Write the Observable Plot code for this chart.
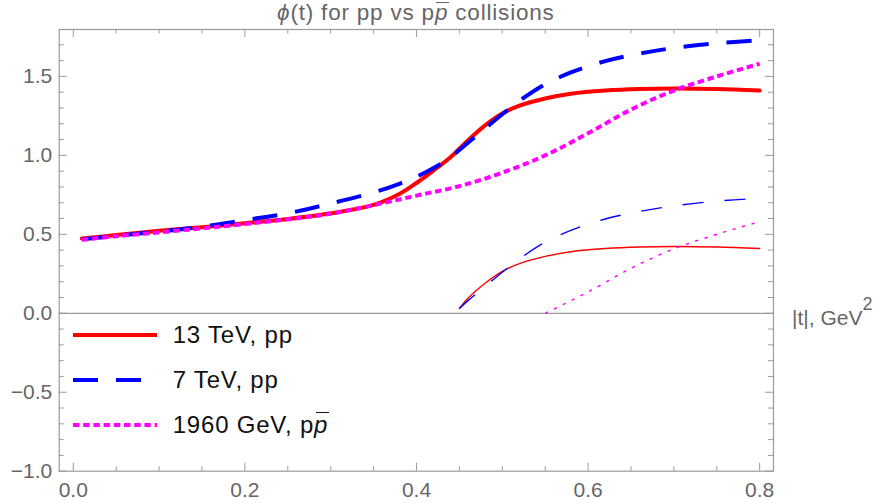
<!DOCTYPE html>
<html>
<head>
<meta charset="utf-8">
<script src="https://cdn.jsdelivr.net/npm/d3@7"></script>
<script src="https://cdn.jsdelivr.net/npm/@observablehq/plot@0.6"></script>
<style>
  body { margin: 0; background: #fff; font-family: "Liberation Sans", Arial, sans-serif; }
  #wrap { position: relative; width: 878px; height: 503px; overflow: hidden; }
  #title { height: 26px; line-height: 26px; font-size: 22.5px; letter-spacing: 0.8px; color: #666; text-align: center;
           padding-left: 58.7px; width: 714.3px; white-space: nowrap; }
  .pbar { font-style: italic; display: inline-block; position: relative; }
  .pbar::before { content: ""; position: absolute; left: 1.5px; right: -0.5px; border-top: 1.5px solid currentColor; }
  #title .pbar::before { top: 1.5px; }
  .leg { position: absolute; left: 73px; height: 40px; display: flex; align-items: center;
         font-size: 24px; letter-spacing: 0.8px; color: #111; white-space: nowrap; }
  .leg span.txt { margin-left: 15.7px; line-height: 28px; }
  .leg .pbar { line-height: 28px; }
  .leg .pbar::before { top: 0.5px; }
  #xlab { position: absolute; left: 792px; top: 306.5px; font-size: 21px; line-height: 21px; color: #666; white-space: nowrap; }
  #xlab sup { font-size: 18px; position: relative; top: -15px; vertical-align: baseline; }
</style>
</head>
<body>
<div id="wrap">
  <div id="title"><i>ϕ</i>(t) for pp vs p<span class="pbar">p</span> collisions</div>
  <div id="chart"></div>
  <div id="xlab">|t|, GeV<sup>2</sup></div>
  <div id="legend"></div>
</div>
<script>
// ---- data ----
const t13 = [0.01,0.05,0.1,0.15,0.2,0.25,0.3,0.35,0.38,0.40,0.42,0.44,0.46,0.48,0.50,0.52,0.55,0.58,0.62,0.66,0.70,0.75,0.80];
const phi13 = [0.473,0.495,0.522,0.545,0.570,0.597,0.633,0.686,0.755,0.825,0.905,0.99,1.095,1.19,1.265,1.315,1.36,1.39,1.41,1.42,1.423,1.42,1.41];
const t7 = [0.01,0.05,0.1,0.15,0.2,0.25,0.3,0.35,0.38,0.40,0.42,0.44,0.46,0.48,0.50,0.52,0.55,0.58,0.62,0.66,0.70,0.75,0.80];
const phi7 = [0.468,0.49,0.517,0.548,0.59,0.633,0.695,0.765,0.82,0.865,0.92,0.99,1.08,1.17,1.26,1.345,1.45,1.525,1.597,1.645,1.68,1.71,1.728];
const t1960 = [0.01,0.05,0.1,0.15,0.2,0.25,0.3,0.35,0.4,0.45,0.5,0.55,0.6,0.65,0.7,0.75,0.8];
const phi1960 = [0.465,0.488,0.512,0.538,0.565,0.595,0.630,0.685,0.745,0.805,0.89,1.0,1.14,1.29,1.41,1.50,1.58];

const t13thin = [0.45,0.46,0.48,0.50,0.52,0.55,0.58,0.62,0.66,0.70,0.75,0.80];
const phi13thin = [0.03,0.095,0.19,0.265,0.315,0.36,0.39,0.41,0.42,0.423,0.42,0.41];
const t7thin = [0.45,0.46,0.48,0.50,0.52,0.55,0.58,0.62,0.66,0.70,0.75,0.80];
const phi7thin = [0.03,0.08,0.17,0.26,0.345,0.45,0.525,0.597,0.645,0.68,0.71,0.728];
const t1960thin = [0.55,0.6,0.65,0.7,0.75,0.8];
const phi1960thin = [0.0,0.135,0.285,0.408,0.50,0.58];

const seriesNames = ["13 TeV, pp", "7 TeV, pp", "1960 GeV, p"];
const seriesColors = ["#ff0000", "#0000ff", "#ff00ff"];

const xMajor = [0, 0.2, 0.4, 0.6, 0.8];
const xTickLabels = ["0.0", "0.2", "0.4", "0.6", "0.8"];
const xMinor = [0.05,0.1,0.15,0.25,0.3,0.35,0.45,0.5,0.55,0.65,0.7,0.75];
const yMajor = [-1, -0.5, 0, 0.5, 1, 1.5];
const yTickLabels = ["\u22121.0", "\u22120.5", "0.0", "0.5", "1.0", "1.5"];
const yMinor = [-0.9,-0.8,-0.7,-0.6,-0.4,-0.3,-0.2,-0.1,0.1,0.2,0.3,0.4,0.6,0.7,0.8,0.9,1.1,1.2,1.3,1.4,1.6,1.7];

// ---- build tables ----
const zip = (xs, ys) => xs.map((x, i) => ({x, y: ys[i]}));
const d13 = zip(t13, phi13), d7 = zip(t7, phi7), d1960 = zip(t1960, phi1960);
const d13t = zip(t13thin, phi13thin), d7t = zip(t7thin, phi7thin), d1960t = zip(t1960thin, phi1960thin);

const W = 878, H = 477, ml = 58.7, mr = 105, mt = 3, mb = 32.3;
const iw = W - ml - mr, ih = H - mt - mb;
const frameC = "#9a9a9a", labC = "#666";
const thickDash = "25,18", thickDot = "6.5,3.7";

const chart = Plot.plot({
  width: W, height: H,
  marginLeft: ml, marginRight: mr, marginTop: mt, marginBottom: mb,
  style: {fontFamily: '"Liberation Sans", Arial, sans-serif', background: "#fff"},
  x: {domain: [-0.0164, 0.8161]},
  y: {domain: [-1.0, 1.797]},
  marks: [
    Plot.ruleY([0], {stroke: frameC, strokeWidth: 1.2}),
    // thin curves
    Plot.line(d13t, {x: "x", y: "y", stroke: seriesColors[0], strokeWidth: 1.4, curve: "catmull-rom"}),
    Plot.line(d7t, {x: "x", y: "y", stroke: seriesColors[1], strokeWidth: 1.4, strokeDasharray: "21,21", strokeLinecap: "butt", curve: "catmull-rom"}),
    Plot.line(d1960t, {x: "x", y: "y", stroke: seriesColors[2], strokeWidth: 1.4, strokeDasharray: "3.3,6.5", strokeLinecap: "butt", curve: "catmull-rom"}),
    // thick curves
    Plot.line(d13, {x: "x", y: "y", stroke: seriesColors[0], strokeWidth: 4, curve: "catmull-rom"}),
    Plot.line(d7, {x: "x", y: "y", stroke: seriesColors[1], strokeWidth: 4, strokeDasharray: thickDash, strokeLinecap: "butt", curve: "catmull-rom"}),
    Plot.line(d1960, {x: "x", y: "y", stroke: seriesColors[2], strokeWidth: 4, strokeDasharray: thickDot, strokeLinecap: "butt", curve: "catmull-rom"}),
    // frame and inward ticks
    Plot.frame({stroke: frameC, strokeWidth: 1.2}),
    Plot.tickX(xMajor, {x: d => d, stroke: frameC, insetTop: ih - 8}),
    Plot.tickX(xMinor, {x: d => d, stroke: frameC, insetTop: ih - 4.5}),
    Plot.tickX(xMajor, {x: d => d, stroke: frameC, insetBottom: ih - 8}),
    Plot.tickX(xMinor, {x: d => d, stroke: frameC, insetBottom: ih - 4.5}),
    Plot.tickY(yMajor, {y: d => d, stroke: frameC, insetRight: iw - 8}),
    Plot.tickY(yMinor, {y: d => d, stroke: frameC, insetRight: iw - 5}),
    Plot.tickY(yMajor, {y: d => d, stroke: frameC, insetLeft: iw - 8}),
    Plot.tickY(yMinor, {y: d => d, stroke: frameC, insetLeft: iw - 5}),
    // labels
    Plot.axisX(xMajor, {anchor: "bottom", tickSize: 0, tickPadding: 11, fill: labC, fontSize: 21, label: null,
      tickFormat: d => xTickLabels[xMajor.indexOf(d)]}),
    Plot.axisY(yMajor, {anchor: "left", tickSize: 0, tickPadding: 7, fill: labC, fontSize: 21, label: null,
      tickFormat: d => yTickLabels[yMajor.indexOf(d)]})
  ]
});
document.getElementById("chart").appendChild(chart);

// ---- legend (HTML overlay) ----
const legRows = [
  {name: seriesNames[0], color: seriesColors[0], dash: null, center: 335, bar: false},
  {name: seriesNames[1], color: seriesColors[1], dash: thickDash, center: 380, bar: false},
  {name: seriesNames[2], color: seriesColors[2], dash: thickDot, center: 425, bar: true}
];
const leg = document.getElementById("legend");
legRows.forEach(r => {
  const row = document.createElement("div");
  row.className = "leg";
  row.style.top = (r.center - 20) + "px";
  const label = r.name + (r.bar ? '<span class="pbar">p</span>' : "");
  row.innerHTML = `<svg width="84" height="10"><line x1="0" y1="5" x2="84" y2="5" stroke="${r.color}" stroke-width="4" ${r.dash ? `stroke-dasharray="${r.dash}"` : ""}/></svg><span class="txt">${label}</span>`;
  leg.appendChild(row);
});
</script>
</body>
</html>
